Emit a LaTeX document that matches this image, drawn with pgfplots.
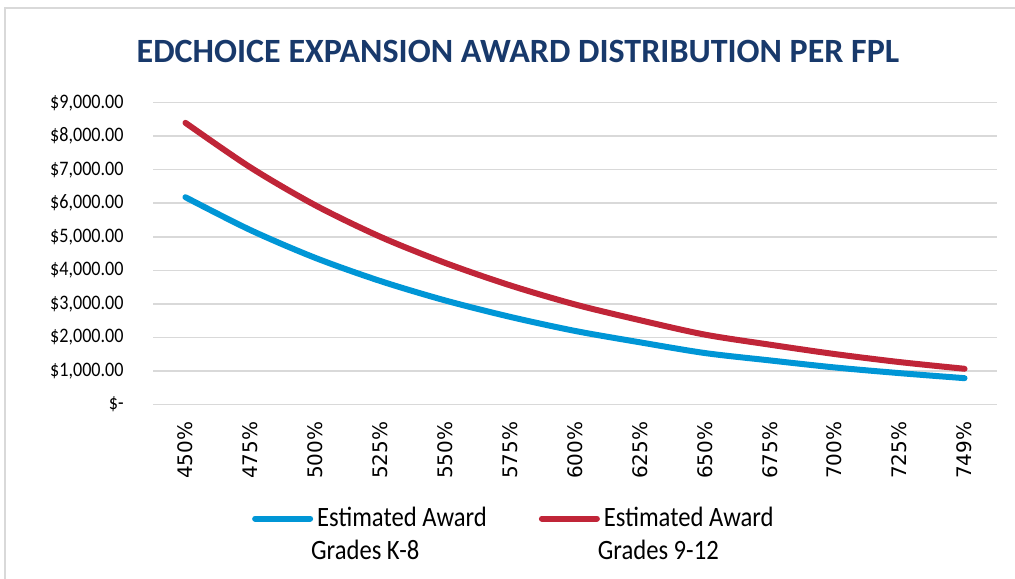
\documentclass[border=0pt]{standalone}
\usepackage{pgfplots}
\pgfplotsset{compat=1.18}
\usepackage{fontspec}
\setmainfont{Carlito}[FakeStretch=0.88]
\newfontfamily\titlefont{Carlito}
\newfontfamily\tickfont{DejaVu Sans}
\definecolor{kblue}{RGB}{0,150,214}
\definecolor{kred}{RGB}{192,37,56}
\definecolor{ktitle}{RGB}{24,57,107}
\definecolor{kgrid}{RGB}{217,217,217}
\begin{document}
\begin{tikzpicture}
\useasboundingbox (0pt,0pt) rectangle (507.5pt,289pt);
\draw[kgrid, line width=1pt] (2.25pt,-5pt) -- (2.25pt,284.75pt) -- (520pt,284.75pt);
\node[font=\titlefont\fontsize{17}{20}\selectfont\bfseries, text=ktitle, inner sep=0pt] at (259pt,263.5pt) {EDCHOICE EXPANSION AWARD DISTRIBUTION PER FPL};
\begin{axis}[
  at={(76.5pt,86.85pt)}, anchor=south west,
  scale only axis, width=422pt, height=150.8pt,
  xmin=-0.5, xmax=12.5, ymin=0, ymax=9000,
  axis line style={draw=none}, tick style={draw=none}, major tick length=0pt,
  ymajorgrids, grid style={kgrid, line width=0.75pt},
  ytick={0,1000,2000,3000,4000,5000,6000,7000,8000,9000},
  yticklabels={\$-\hspace{5pt},\$1{,}000.00,\$2{,}000.00,\$3{,}000.00,\$4{,}000.00,\$5{,}000.00,\$6{,}000.00,\$7{,}000.00,\$8{,}000.00,\$9{,}000.00},
  yticklabel style={anchor=east, inner sep=0pt, font=\fontsize{10.3}{12}\selectfont},
  yticklabel shift=14.5pt,
  xtick={0,1,2,3,4,5,6,7,8,9,10,11,12},
  xticklabels={450\%,475\%,500\%,525\%,550\%,575\%,600\%,625\%,650\%,675\%,700\%,725\%,749\%},
  xticklabel style={rotate=90, anchor=east, inner sep=0pt, font=\tickfont\fontsize{10}{12}\selectfont},
  xticklabel shift=8.5pt,
  legend columns=2,
  legend cell align=left,
  legend style={at={(0.117,-0.327)}, anchor=north west, draw=none, fill=none,
    font=\fontsize{14}{16}\selectfont, row sep=1pt, inner sep=0pt},
  /tikz/every even column/.append style={column sep=24pt},
  legend image code/.code={\draw[#1] (0pt,0pt) -- (27.5pt,0pt);},
]
\addplot[kblue, line width=3pt, smooth, line cap=round] coordinates {
(0,6180) (1,5200) (2,4370) (3,3680) (4,3100) (5,2610) (6,2190) (7,1850) (8,1530) (9,1310) (10,1100) (11,930) (12,780)};
\addlegendentry{Estimated Award}
\addplot[kred, line width=3pt, smooth, line cap=round] coordinates {
(0,8400) (1,7070) (2,5940) (3,5000) (4,4220) (5,3550) (6,2980) (7,2510) (8,2080) (9,1780) (10,1500) (11,1260) (12,1060)};
\addlegendentry{Estimated Award}
\addlegendimage{empty legend}
\addlegendentry{\hspace*{-3pt}Grades K-8}
\addlegendimage{empty legend}
\addlegendentry{\hspace*{-3pt}Grades 9-12}
\end{axis}
\end{tikzpicture}
\end{document}
